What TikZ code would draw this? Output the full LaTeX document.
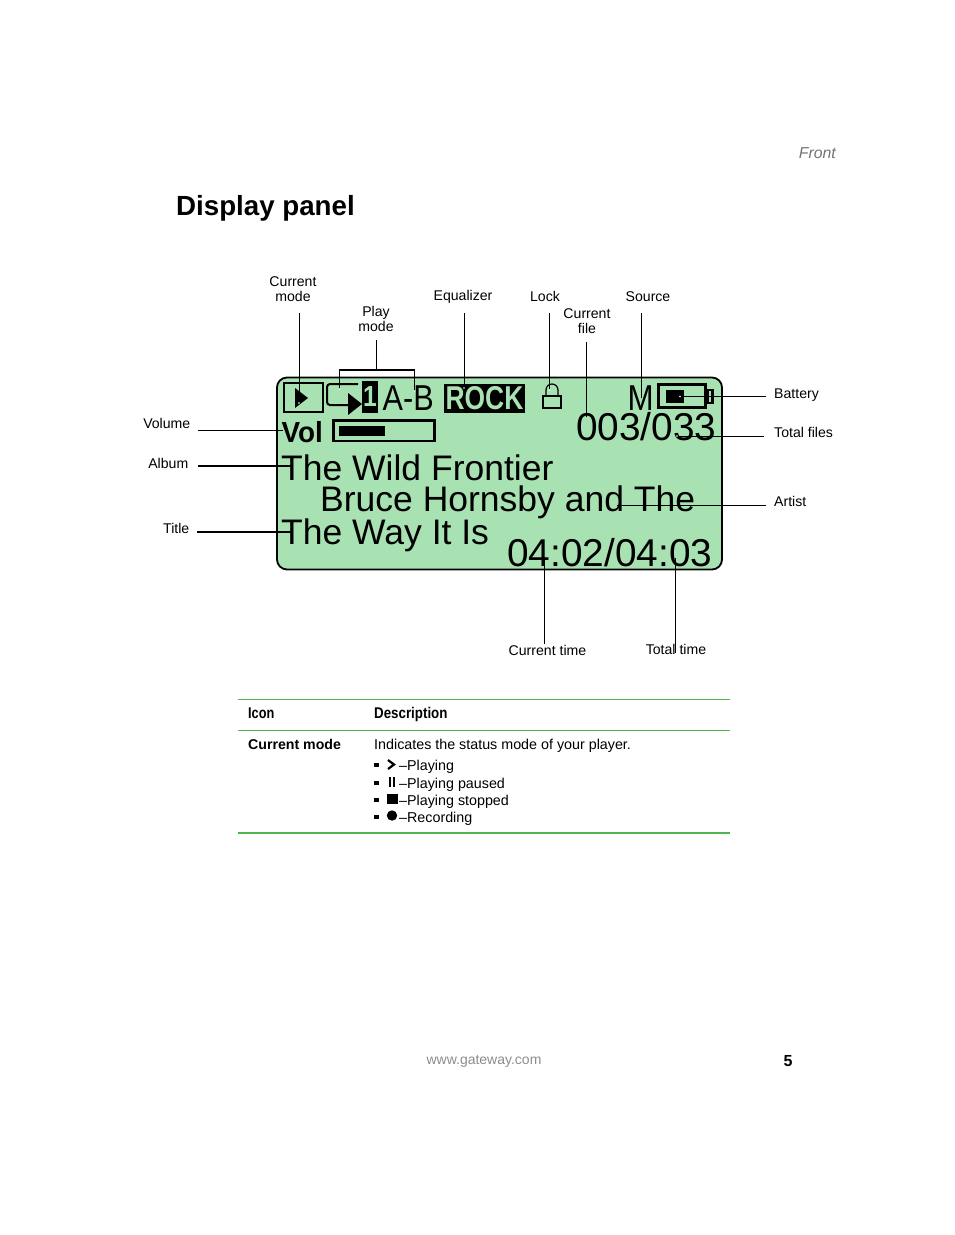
\documentclass[tikz,border=0pt]{standalone}
\usepackage{fontspec}
\setmainfont{Liberation Sans}
\usetikzlibrary{calc}
\definecolor{lcdgreen}{HTML}{A8E2B2}
\definecolor{rulegreen}{HTML}{4FB34F}
\tikzset{
    callout/.style={font=\fontsize{14.1}{15}\selectfont, align=center, inner sep=0pt},
    leader/.style={line width=.8pt},
    lcdtext/.style={anchor=base west, inner sep=0pt, font=\fontsize{35.5}{38}\selectfont},
    lcdnum/.style={anchor=base west, inner sep=0pt, font=\fontsize{38.8}{40}\selectfont},
    cell/.style={anchor=base west, inner sep=0pt, font=\fontsize{14}{16}\selectfont},
    rowtext/.style={anchor=base west, inner sep=0pt, font=\fontsize{14.3}{16}\selectfont},
    bullet/.style={fill=black, inner sep=0pt, minimum size=4.5pt}
}
\begin{document}
\begin{tikzpicture}[x=1pt,y=-1pt]
        \useasboundingbox (0,0) rectangle (954,1235);
        \node (Front) at (836,158) [anchor=base east, inner sep=0pt, text=black!55, font=\fontsize{15.8}{18}\selectfont\itshape] {Front};
        \node (Heading) at (176,215) [anchor=base west, inner sep=0pt, font=\fontsize{27.7}{32}\selectfont\bfseries] {Display panel};
        % panel
        \node (Panel) at (499.5,473.5) [draw, line width=1.8pt, fill=lcdgreen, rounded corners=10pt, minimum width=445pt, minimum height=192pt, inner sep=0pt] {};
        % first row
        \node (ModeBox) at (303,397.5) [draw, line width=2pt, minimum width=39pt, minimum height=29pt, inner sep=0pt] {};
        \fill (295,388) -- (308,398) -- (295,408) -- cycle;
        \draw [line width=2pt, rounded corners=3pt] (358,384) -- (327,384) -- (327,405) -- (350,405);
        \fill (348,393) -- (362,404) -- (348,415) -- cycle;
        \node (One) at (370,397) [fill=black, text=lcdgreen, minimum width=16pt, minimum height=32pt, inner sep=0pt, font=\fontsize{29}{31}\selectfont\bfseries] {\scalebox{.85}[1]{1}};
        \node (AB) at (382.5,410) [anchor=base west, inner sep=0pt, font=\fontsize{36}{38}\selectfont] {\scalebox{.85}[1]{A-B}};
        \node (Rock) at (484.5,398.5) [fill=black, text=lcdgreen, minimum width=81pt, minimum height=29pt, inner sep=0pt, font=\fontsize{33}{36}\selectfont\bfseries] {\scalebox{.8}[1]{ROCK}};
        \node (LockBody) at (552,402) [draw, line width=1.2pt, minimum width=18pt, minimum height=12pt, inner sep=0pt] {};
        \draw [line width=1.2pt] (546,396) -- (546,390) arc (-180:0:6) -- (558,396);
        \node (Source) at (627.5,410) [anchor=base west, inner sep=0pt, font=\fontsize{36}{38}\selectfont] {\scalebox{.87}[1]{M}};
        \node (BatteryBox) at (682,396) [draw, line width=3pt, minimum width=47pt, minimum height=23pt, inner sep=0pt] {};
        \node (BatteryTip) at (710,396.5) [draw, line width=2.6pt, minimum width=5pt, minimum height=13pt, inner sep=0pt] {};
        \node (BatteryBar) at (675,396.5) [fill=black, minimum width=18pt, minimum height=13pt, inner sep=0pt] {};
        \coordinate (BatteryEnd) at (766,396.5);
        % second row
        \node (Vol) at (281.5,442) [anchor=base west, inner sep=0pt, font=\fontsize{29}{32}\selectfont\bfseries] {\scalebox{.96}[1]{Vol}};
        \node (VolBox) at (384,430.5) [draw, line width=2.5pt, minimum width=101pt, minimum height=20.5pt, inner sep=0pt] {};
        \node (VolBar) at (362,431) [fill=black, minimum width=46pt, minimum height=10pt, inner sep=0pt] {};
        \node (Files) at (576,440) [lcdnum] {003/033};
        % text rows
        \node (Album) at (281,480) [lcdtext] {The Wild Frontier};
        \node (Artist) at (320,511.5) [lcdtext] {Bruce Hornsby and The};
        \node (Title) at (281,544) [lcdtext] {The Way It Is};
        \node (Time) at (507,566.5) [lcdnum] {04:02/04:03};
        % labels
        \node (lCurMode) at (293,289) [callout] {Current\\mode};
        \node (lPlayMode) at (376,319) [callout] {Play\\mode};
        \node (lEq) at (463,297) [callout] {Equalizer};
        \node (lLock) at (545,296) [callout] {Lock};
        \node (lCurFile) at (587,321) [callout] {Current\\file};
        \node (lSource) at (648,297) [callout] {Source};
        \node (lBattery) at (774,395.5) [callout, anchor=west] {Battery};
        \node (lTotFiles) at (774,432.5) [callout, anchor=west] {Total files};
        \node (lArtist) at (774,501.5) [callout, anchor=west] {Artist};
        \node (lVolume) at (190.5,423.5) [callout, anchor=east] {Volume};
        \node (lAlbum) at (188.5,463.5) [callout, anchor=east] {Album};
        \node (lTitle) at (189.5,528.5) [callout, anchor=east] {Title};
        \node (lCurTime) at (547.5,650.5) [callout] {Current time};
        \node (lTotTime) at (676,649.5) [callout] {Total time};
        % leaders
        \draw [leader] (299,313) -- (299,403);
        \draw [leader] (376.5,340) -- (376.5,369);
        \draw [leader, line width=1.2pt] (339.5,389) -- (339.5,370) -- (414.5,370) -- (414.5,391);
        \draw [leader] (464,313) -- (464,388);
        \draw [leader] (549.5,313) -- (549.5,390);
        \draw [leader] (586.5,342) -- (586.5,417);
        \draw [leader] (641.5,313) -- (641.5,398);
        \draw [leader, line width=1.3pt] (BatteryBar.center) -- (BatteryEnd);
        \draw [leader] (677,436) -- (764,436);
        \draw [leader] (617,505) -- (766,505);
        \draw [leader] (198,430.5) -- (283,430.5);
        \draw [leader, line width=1.3pt] (198,466) -- (292,466);
        \draw [leader, line width=1.3pt] (197,532) -- (292,532);
        \draw [leader] (544.5,558) -- (544.5,644);
        \draw [leader] (675.5,558) -- (675.5,653);
        \foreach \p in {(299,403),(339.5,389),(414.5,391),(464,388),(549.5,390),(680,396.5),(677,436)}
            \fill [white] \p circle (.9);
        % table
        \draw [rulegreen, line width=.8pt] (238,699.5) -- (730,699.5);
        \draw [rulegreen, line width=.8pt] (238,730.5) -- (730,730.5);
        \draw [rulegreen, line width=1.6pt] (238,833) -- (730,833);
        \node (hIcon) at (248,718) [cell, font=\fontsize{15.5}{17}\selectfont\bfseries] {\scalebox{.82}[1]{Icon}};
        \node (hDesc) at (374,718) [cell, font=\fontsize{15.5}{17}\selectfont\bfseries] {\scalebox{.86}[1]{Description}};
        \node (cMode) at (248,749) [cell, font=\fontsize{14.15}{16}\selectfont\bfseries] {Current mode};
        \node (cDesc) at (374,749) [rowtext] {Indicates the status mode of your player.};
        \foreach \y/\name/\txt in {770/rPlaying/Playing, 788/rPaused/Playing paused, 805/rStopped/Playing stopped, 822/rRecording/Recording} {
            \node at (376.5,\y-5) [bullet] {};
            \node (\name) at (399,\y) [rowtext] {--\txt};
        }
        \draw [line width=2.2pt] (388,760) -- (394,764.5) -- (388,769);
        \fill (388.5,777) rectangle (390.5,787);
        \fill (393,777) rectangle (395,787);
        \fill (387,793.5) rectangle (397.5,804);
        \fill (392,815.5) circle (5.2);
        % footer
        \node (Url) at (484,1064) [inner sep=0pt, anchor=base, text=black!45, font=\fontsize{14}{16}\selectfont] {www.gateway.com};
        \node (Page) at (788,1066) [inner sep=0pt, anchor=base, font=\fontsize{16}{18}\selectfont\bfseries] {5};
    \end{tikzpicture}
\end{document}
